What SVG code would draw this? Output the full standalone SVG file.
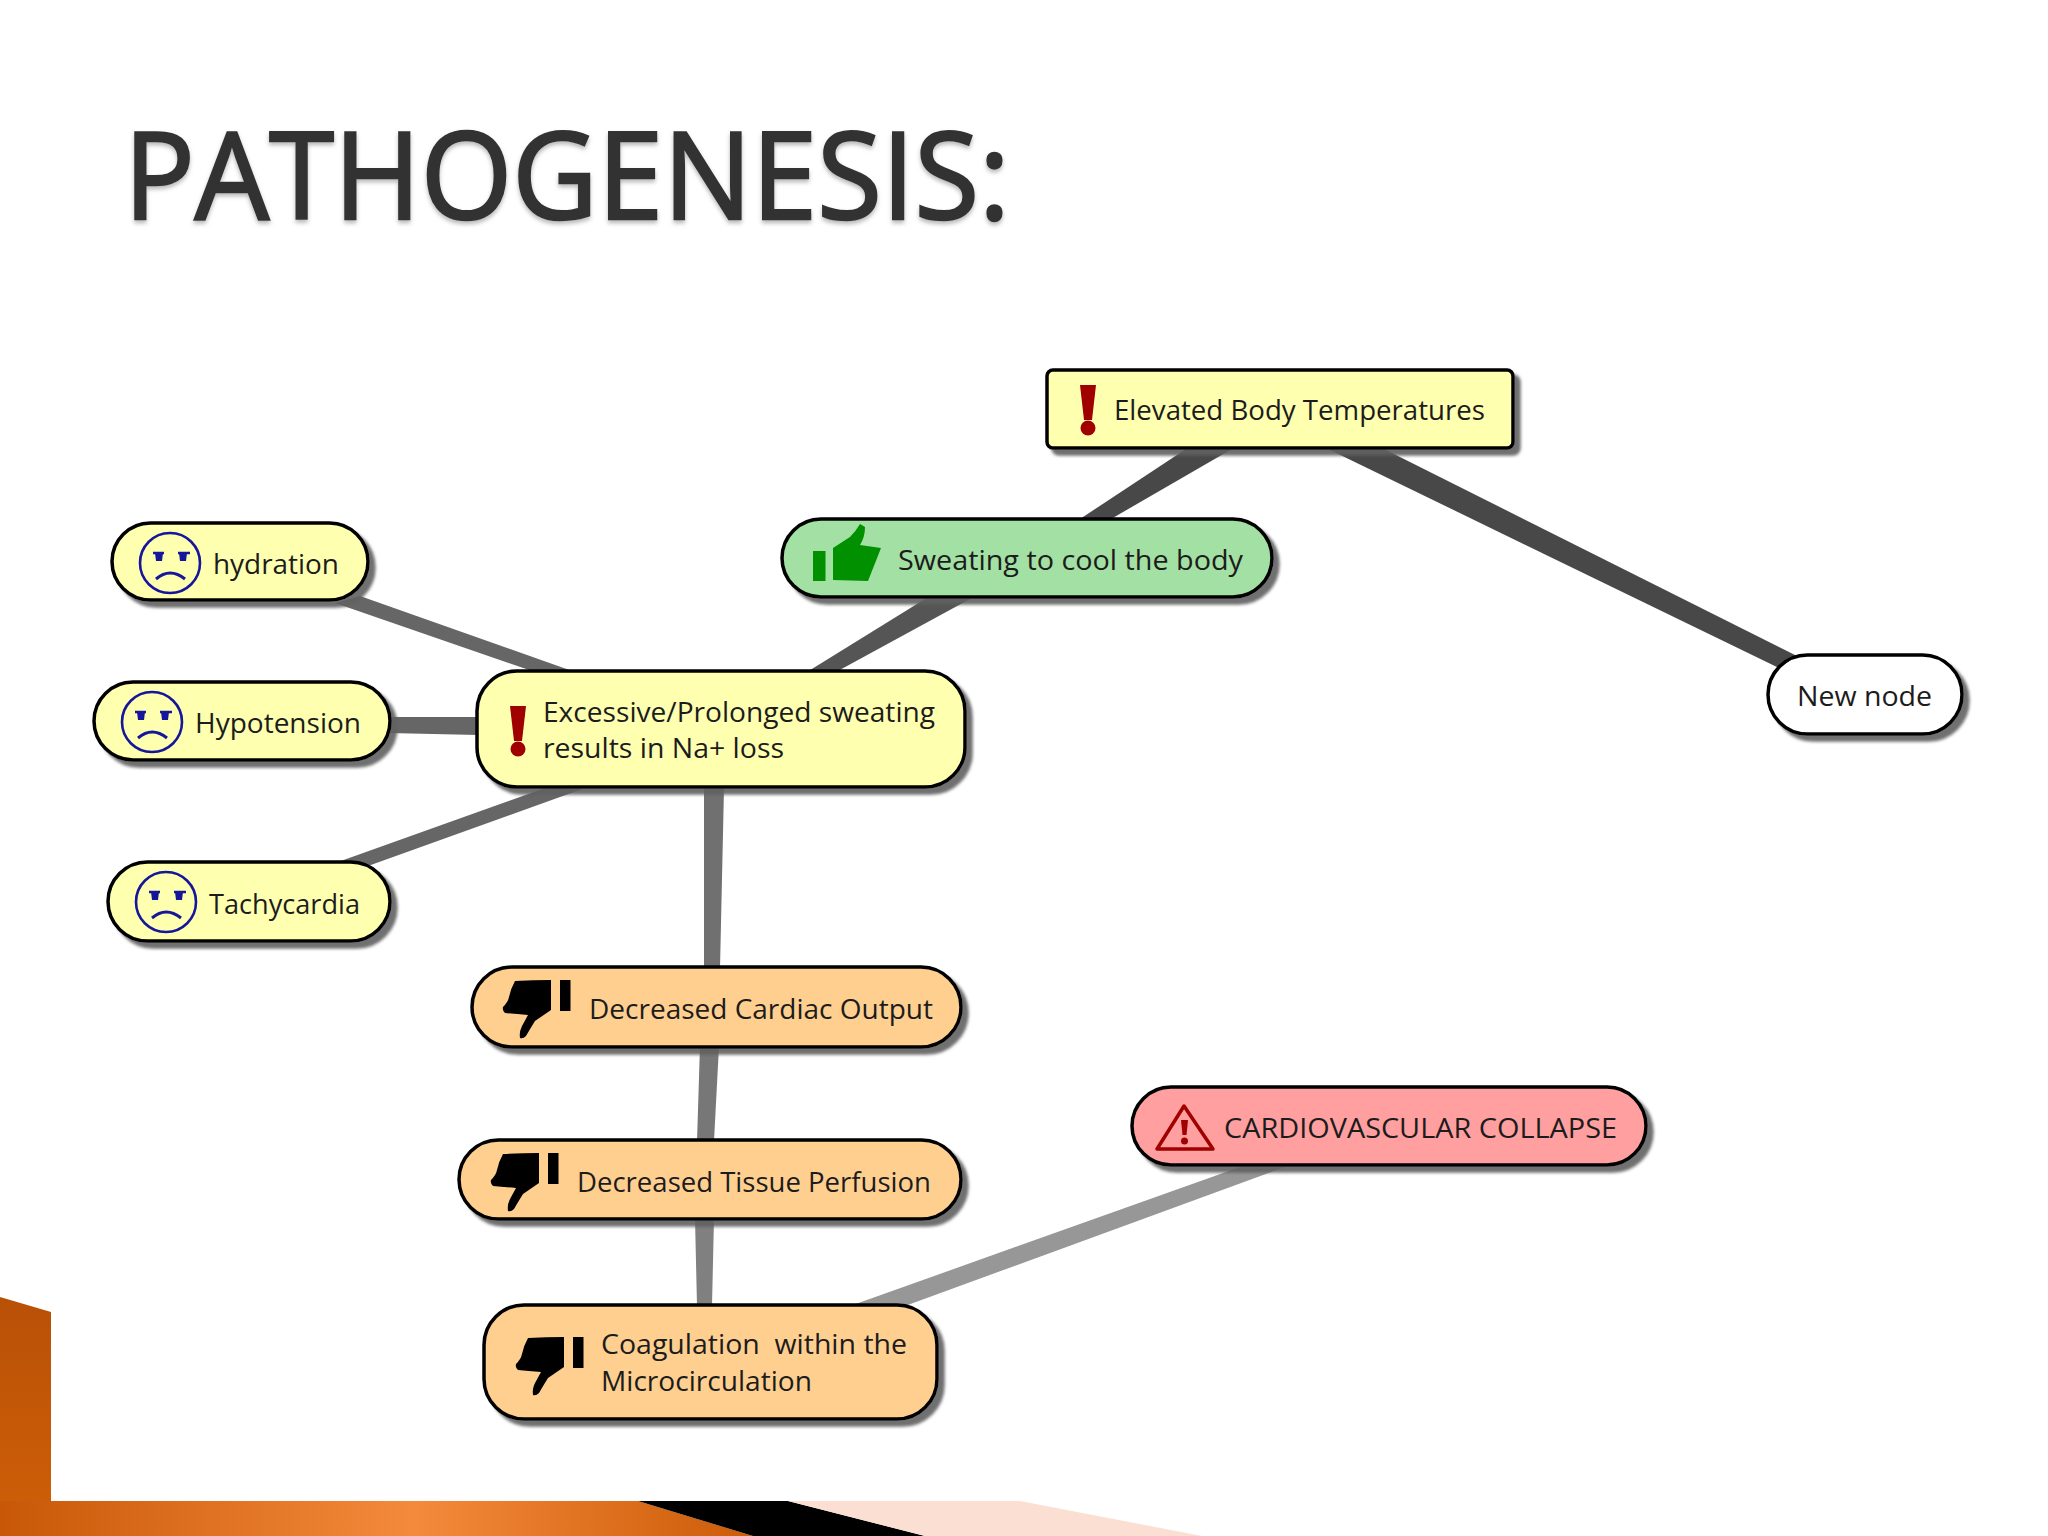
<svg xmlns="http://www.w3.org/2000/svg" xmlns:xlink="http://www.w3.org/1999/xlink" width="2048" height="1536" viewBox="0 0 2048 1536">
<style>
.box{stroke:#000;stroke-width:3.5;filter:url(#sh)}
.yellow{fill:#ffffb0}.green{fill:#a3e0a3}.orange{fill:#ffcf90}.red{fill:#ff9f9f}.white{fill:#fff}
.t{font-family:"Open Sans","Noto Sans","Liberation Sans",sans-serif;font-size:27px;fill:#1c1c1c}
.title{font-family:"Open Sans","Noto Sans","Liberation Sans",sans-serif;font-size:120px;fill:#333;stroke:#333;stroke-width:2.5;filter:url(#ts)}
</style>
<defs>
<filter id="sh" x="-5%" y="-10%" width="112%" height="125%"><feDropShadow dx="6" dy="6" stdDeviation="1.5" flood-color="#606060" flood-opacity="0.9"/></filter>
<filter id="ts" x="-2%" y="-10%" width="104%" height="125%"><feGaussianBlur stdDeviation="0.7"/><feDropShadow dx="0" dy="3" stdDeviation="2" flood-color="#888" flood-opacity="0.6"/></filter>
<linearGradient id="band" x1="0" y1="0" x2="1" y2="0"><stop offset="0" stop-color="#c85808"/><stop offset="0.55" stop-color="#f48a3c"/><stop offset="1" stop-color="#cc5c08"/></linearGradient>
<linearGradient id="side" x1="0" y1="0" x2="0" y2="1"><stop offset="0" stop-color="#b85006"/><stop offset="1" stop-color="#d06008"/></linearGradient>
<g id="sad" fill="none" stroke="#16169a" stroke-width="2.6">
<circle r="30"/>
<path d="M-14 16Q0 4 15 16" stroke-width="3"/>
<path d="M-17-10h11M8-10h12" stroke-width="2.500"/>
<path d="M-15-10h8l-1 8h-6zM9-10h8l-1 8h-6z" fill="#16169a" stroke="none"/>
</g>
<g id="down" fill="#000">
<rect x="57" y="0" width="10.500" height="31"/>
<path d="M12 1Q30 0 48 0V30L32 41Q27 49 23 56Q20 59 17 58Q16 52 19 46L25 35Q12 34 2 33Q-1 30 0 27Q5 22 6 17Q8 8 12 1Z"/>
</g>
<g id="bang" fill="#a00000">
<path d="M-8 0H8L4 35H-4Z"/>
<circle cy="43" r="7.500"/>
</g>
</defs>
<rect width="2048" height="1536" fill="#fff"/>
<g id="decoration">
<path d="M0 1297L51 1312V1536H0Z" fill="url(#side)"/>
<path d="M51 1501H638L753 1536H0V1501Z" fill="url(#band)"/>
<path d="M638 1501H788L925 1536H753Z" fill="#000"/>
<path d="M788 1501H1020L1202 1536H925Z" fill="#fbdfd3"/>
</g>
<text class="title" x="124" y="219" textLength="886" lengthAdjust="spacingAndGlyphs">PATHOGENESIS:</text>
<g id="connectors">
<polygon points="1186,449 1232,449 1111,519 1080,519" fill="#484848"/>
<polygon points="925,599 970,599 836,672 807,672" fill="#555"/>
<polygon points="1328,449 1384,449 1805,660 1779,668" fill="#484848"/>
<polygon points="335,603 360,596 575,672 535,672" fill="#666"/>
<polygon points="388,717 478,717 478,735 388,733" fill="#666"/>
<polygon points="338,862 368,866 585,788 545,788" fill="#666"/>
<polygon points="704,788 724,788 720,968 704,968" fill="#707070"/>
<polygon points="700,1046 719,1046 714,1141 697,1141" fill="#777"/>
<polygon points="695,1218 714,1218 712,1306 697,1306" fill="#808080"/>
<polygon points="850,1306 905,1306 1285,1167 1240,1167" fill="#979797"/>
</g>
<g id="node-elevated">
<rect class="box yellow" x="1047" y="370" width="466" height="78" rx="6"/>
<use xlink:href="#bang" href="#bang" transform="translate(1088,385)"/>
<text class="t" x="1114" y="420" textLength="371" lengthAdjust="spacingAndGlyphs">Elevated Body Temperatures</text>
</g>
<g id="node-sweating">
<rect class="box green" x="782" y="519" width="490" height="78" rx="39"/>
<rect x="813" y="551" width="12.500" height="30" fill="#009000"/>
<path d="M833 548L850 537Q856 531 860 524L865 527Q865 537 860 545L881 548L868 581L833 580Z" fill="#009000"/>
<text class="t" x="898" y="570" textLength="345" lengthAdjust="spacingAndGlyphs">Sweating to cool the body</text>
</g>
<g id="node-hydration">
<rect class="box yellow" x="112" y="523" width="256" height="77" rx="38.500"/>
<use xlink:href="#sad" href="#sad" transform="translate(170,563)"/>
<text class="t" x="213" y="574" textLength="126" lengthAdjust="spacingAndGlyphs">hydration</text>
</g>
<g id="node-hypotension">
<rect class="box yellow" x="94" y="682" width="296" height="78" rx="39"/>
<use xlink:href="#sad" href="#sad" transform="translate(152,722)"/>
<text class="t" x="195" y="733" textLength="166" lengthAdjust="spacingAndGlyphs">Hypotension</text>
</g>
<g id="node-tachycardia">
<rect class="box yellow" x="108" y="862" width="282" height="79" rx="39.500"/>
<use xlink:href="#sad" href="#sad" transform="translate(166,902)"/>
<text class="t" x="209" y="914" textLength="151" lengthAdjust="spacingAndGlyphs">Tachycardia</text>
</g>
<g id="node-excessive">
<rect class="box yellow" x="477" y="671" width="488" height="116" rx="40"/>
<use xlink:href="#bang" href="#bang" transform="translate(518,706)"/>
<text class="t" x="543" y="722" textLength="392" lengthAdjust="spacingAndGlyphs">Excessive/Prolonged sweating</text>
<text class="t" x="543" y="758" textLength="241" lengthAdjust="spacingAndGlyphs">results in Na+ loss</text>
</g>
<g id="node-new">
<rect class="box white" x="1768" y="655" width="194" height="79" rx="39.500"/>
<text class="t" x="1797" y="706" textLength="135" lengthAdjust="spacingAndGlyphs">New node</text>
</g>
<g id="node-cardiac">
<rect class="box orange" x="472" y="967" width="489" height="80" rx="40"/>
<use xlink:href="#down" href="#down" transform="translate(503,980)"/>
<text class="t" x="589" y="1019" textLength="344" lengthAdjust="spacingAndGlyphs">Decreased Cardiac Output</text>
</g>
<g id="node-tissue">
<rect class="box orange" x="459" y="1140" width="502" height="79" rx="39.500"/>
<use xlink:href="#down" href="#down" transform="translate(491,1153)"/>
<text class="t" x="577" y="1192" textLength="354" lengthAdjust="spacingAndGlyphs">Decreased Tissue Perfusion</text>
</g>
<g id="node-coagulation">
<rect class="box orange" x="484" y="1305" width="453" height="114" rx="40"/>
<use xlink:href="#down" href="#down" transform="translate(516,1337)"/>
<text class="t" x="601" y="1354" textLength="306" lengthAdjust="spacingAndGlyphs" xml:space="preserve">Coagulation  within the</text>
<text class="t" x="601" y="1391" textLength="211" lengthAdjust="spacingAndGlyphs">Microcirculation</text>
</g>
<g id="node-cardiovascular">
<rect class="box red" x="1132" y="1087" width="514" height="78" rx="39"/>
<path d="M1184 1106L1213 1149H1157Z" fill="none" stroke="#a00000" stroke-width="3.500" stroke-linejoin="round"/>
<path d="M1181 1120H1188L1186.500 1135H1182.500Z" fill="#a00000"/>
<circle cx="1184.500" cy="1141" r="3.500" fill="#a00000"/>
<text class="t" x="1224" y="1138" textLength="393" lengthAdjust="spacingAndGlyphs">CARDIOVASCULAR COLLAPSE</text>
</g>
</svg>
